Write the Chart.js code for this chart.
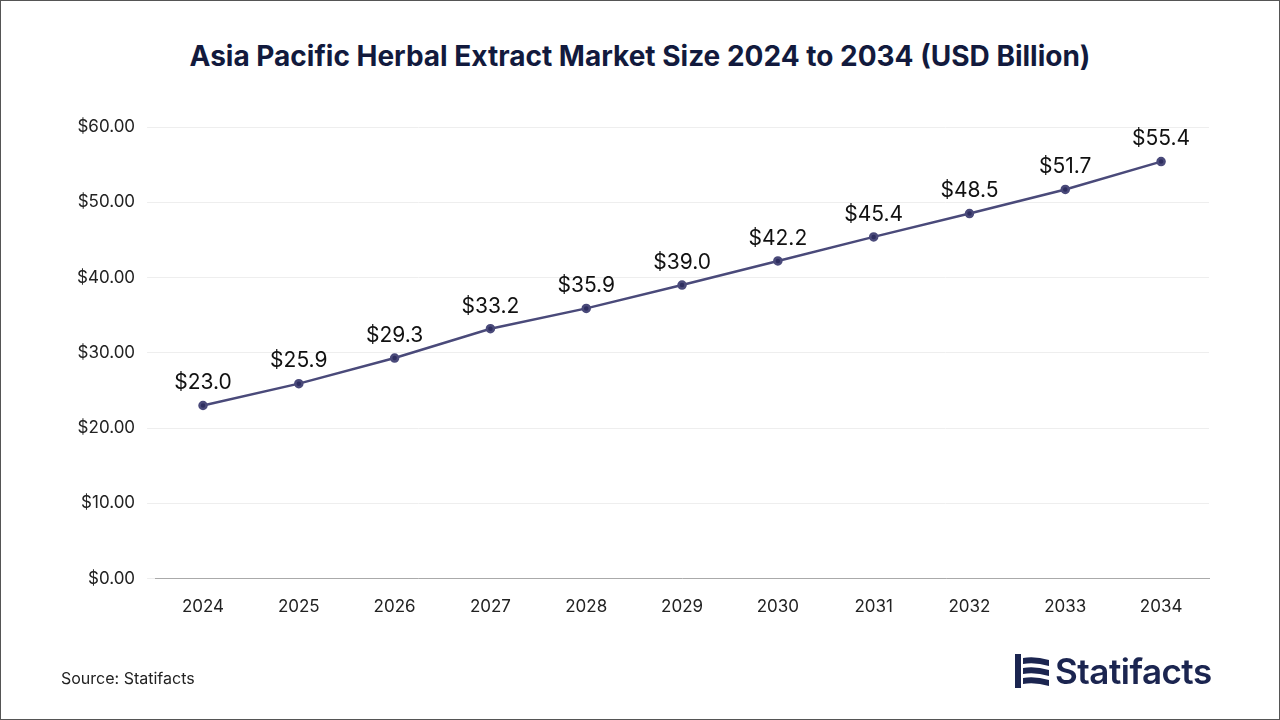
<!DOCTYPE html>
<html><head><meta charset="utf-8">
<script src="https://cdn.jsdelivr.net/npm/chart.js@4"></script>
<style>
html,body{margin:0;padding:0;background:#fff;}
#wrap{position:relative;width:1278px;height:718px;border:1px solid #555;font-family:Inter,"Open Sans",sans-serif;}
#title{position:absolute;top:38px;left:0;width:100%;text-align:center;font-size:28px;font-weight:700;color:#121a3d;}
#src{position:absolute;left:60px;top:667px;font-size:16px;color:#222;}
#logo{position:absolute;left:1014px;top:650px;height:40px;display:flex;align-items:center;}
#logo span{font-size:35px;font-weight:600;color:#1b2550;margin-left:6px;letter-spacing:-0.5px;}
canvas{position:absolute;left:0;top:0;}
</style></head><body>
<div id="wrap">
<div id="title">Asia Pacific Herbal Extract Market Size 2024 to 2034 (USD Billion)</div>
<canvas id="c" width="1278" height="718"></canvas>
<div id="src">Source: Statifacts</div>
<div id="logo"><svg width="34" height="34" viewBox="0 0 34 34"><rect x="0" y="0" width="6" height="34" fill="#1b2550"/><path d="M8 4 Q20 2 34 6 L34 12 Q20 8 8 10Z" fill="#1b2550"/><path d="M8 14 Q20 12 34 16 L34 22 Q20 18 8 20Z" fill="#1b2550"/><path d="M8 24 Q20 22 34 26 L34 32 Q20 28 8 30Z" fill="#1b2550"/></svg><span>Statifacts</span></div>
</div>
<script>
const categories=["2024","2025","2026","2027","2028","2029","2030","2031","2032","2033","2034"];
const values=[23.0,25.9,29.3,33.2,35.9,39.0,42.2,45.4,48.5,51.7,55.4];
const labelPlugin={id:'lbl',afterDatasetsDraw(ch){const ctx=ch.ctx;const m=ch.getDatasetMeta(0);ctx.save();ctx.font='21px Inter, "Open Sans", sans-serif';ctx.fillStyle='#111';ctx.textAlign='center';ctx.textBaseline='bottom';m.data.forEach((p,i)=>{ctx.fillText('$'+values[i].toFixed(1),p.x,p.y-12);});ctx.restore();}};
new Chart(document.getElementById('c'),{type:'line',
data:{labels:categories,datasets:[{data:values,borderColor:'#4a4a7a',backgroundColor:'#2e2e60',borderWidth:2.5,pointRadius:3.5,pointBackgroundColor:'#2e2e60',tension:0}]},
options:{responsive:false,animation:false,layout:{padding:{left:64,right:70,top:126,bottom:92}},
plugins:{legend:{display:false},tooltip:{enabled:false}},
scales:{x:{offset:true,grid:{display:false},border:{color:'#aaa'},ticks:{color:'#222',font:{size:17,family:'Inter'},padding:10}},
y:{min:0,max:60,ticks:{stepSize:10,color:'#222',font:{size:17,family:'Inter'},padding:12,callback:v=>'$'+v.toFixed(2)},grid:{color:'#eee'},border:{display:false}}}},
plugins:[labelPlugin]});
</script>
</body></html>
